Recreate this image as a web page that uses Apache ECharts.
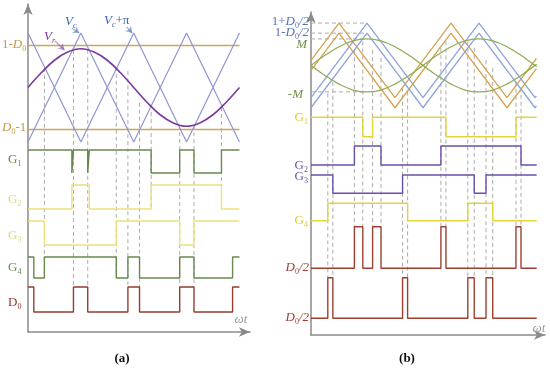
<!DOCTYPE html>
<html><head><meta charset="utf-8">
<script src="https://cdn.jsdelivr.net/npm/echarts@6/dist/echarts.min.js"></script>
<style>html,body{margin:0;padding:0;background:#fff}#c{width:550px;height:377px}</style>
</head><body><div id="c"></div>
<script>
// ================= DATA : panel (a) =================
const aCarX   = [0, 1, 2, 3, 4];
const aCarVc  = [-1, 1, -1, 1, -1];      // Vc
const aCarVcp = [1, -1, 1, -1, 1];       // Vc+pi
const aSineX  = [0,0.25,0.5,0.75,1,1.25,1.5,1.75,2,2.25,2.5,2.75,3,3.25,3.5,3.75,4];
const aSineY  = [0,0.27,0.5,0.65,0.71,0.65,0.5,0.27,0,-0.27,-0.5,-0.65,-0.71,-0.65,-0.5,-0.27,0];
const aLevels = [0.77, -0.77];           // 1-D0 , D0-1
const aEnd = 4;
const aG1 = {start:1, edges:[0.83,0.86,1.13,1.16,2.33,2.87,3.14,3.66]};
const aG2 = {start:0, edges:[0.83,1.16,2.33,3.66]};
const aG3 = {start:1, edges:[0.31,1.67,2.87,3.14]};
const aG4 = {start:1, edges:[0.11,0.31,1.67,1.89,2.11,2.87,3.14,3.87]};
const aD0 = {start:1, edges:[0.11,0.86,1.13,1.89,2.11,2.87,3.14,3.87]};
const aDashX   = [0.31,0.86,1.13,1.67,1.89,2.11,2.33,2.87,3.14,3.66];
const aDashTop = [0.36,0.69,0.69,0.38,0.30,-0.28,-0.45,-0.69,-0.69,-0.36];
const aDashRow = ['G4','D0','D0','G4','D0','D0','G2','D0','D0','G2'];

// ================= DATA : panel (b) =================
const bOrX = [0,1,3,5,7,8.05];
const bOrY = [0,1,-1,1,-1,0.05];
const bBlX = [0,2,4,6,8,8.05];
const bBlY = [-1,1,-1,1,-1,-0.95];
const bHalfD0 = 0.135;
const bM = 0.71;
const bSineX = [0,0.5,1,1.5,2,2.5,3,3.5,4,4.5,5,5.5,6,6.5,7,7.5,8,8.06];
const bSineY = [0,0.27,0.5,0.66,0.71,0.66,0.5,0.27,0,-0.27,-0.5,-0.66,-0.71,-0.66,-0.5,-0.27,0,0.03];
const bEnd = 8.06;
const bG1 = {start:1, edges:[1.85,2.20,4.82,7.32]};
const bG2 = {start:0, edges:[1.55,2.50,4.64,7.50]};
const bG3 = {start:1, edges:[0.78,3.27,5.83,6.25]};
const bG4 = {start:0, edges:[0.60,3.45,5.60,6.49]};
const bDa = {start:0, edges:[1.55,1.85,2.20,2.50,4.64,4.82,7.32,7.50]};
const bDb = {start:0, edges:[0.60,0.78,3.27,3.45,5.60,5.83,6.25,6.49]};
const bDashX   = [0.60,0.78,1.55,1.85,2.20,2.50,3.27,3.45,4.64,4.82,5.60,5.83,6.25,6.49,7.32,7.50];
const bDashTop = [-0.75,-0.44,0.41,0.64,0.41,0.2,-0.6,-0.7,0.47,0.64,0.64,0.47,0.14,-0.07,-0.44,-0.6];
const bDashRow = ['Db','Db','Da','Da','Da','Da','Db','Db','Da','Da','Db','Db','Db','Db','Da','Da'];
const bHLevels = [1 + bHalfD0, 1 - bHalfD0, bM, -bM];
const bHEnd = 2;

// ================= LAYOUT =================
const aMid = 244.5, aAmp = 54.5;
const aRows = {G1:[159,182], G2:[123,147], G3:[87,111], G4:[54,75], D0:[20,45]};
const bMid = 269.6, bAmp = 37.3;
const bRows = {G1:[198.3,217.7], G2:[170,189], G3:[141.7,160], G4:[114.3,131.7], Da:[66.7,108.3], Db:[16.7,57.3]};

const C = {
  aCar:'#8f96d2', aSine:'#7a3a9c', aLev:'#c9a85a', aGreen:'#66894c', aYel:'#ebe27c', aRed:'#953d2d',
  bOr:'#d6a24e', bBl:'#8ea3dc', bGr:'#8fae5c', bYel:'#e3d43e', bPur:'#6b4eaa', bRed:'#9e3f2e',
  dash:'#ababab', axis:'#8a8a8a'
};
const F = '"Liberation Serif","DejaVu Serif",serif';

function steps(sig, end, row){
  let lv = sig.start;
  const y = l => row[0] + l*(row[1]-row[0]);
  const pts = [[0, y(lv)]];
  sig.edges.forEach(e => { pts.push([e, y(lv)]); lv = 1-lv; pts.push([e, y(lv)]); });
  pts.push([end, y(lv)]);
  return pts;
}
function line(idx, data, color, w, extra){
  return Object.assign({type:'line', xAxisIndex:idx, yAxisIndex:idx, data, showSymbol:false, symbol:'none',
    silent:true, animation:false, lineStyle:{color, width:w}, z:3}, extra||{});
}
const series = [];
// ---- (a)
const aMap = v => aMid + v*aAmp;
aDashX.forEach((x,i)=>{
  series.push(line(0, [[x, aMap(aDashTop[i])],[x, aRows[aDashRow[i]][aDashRow[i]==='D0'?1:0]]], C.dash, 1, {lineStyle:{color:C.dash,width:1,type:[4,3]}, z:1}));
});
aLevels.forEach(l => series.push(line(0, [[0,aMap(l)],[aEnd,aMap(l)]], C.aLev, 1.4)));
series.push(line(0, aCarX.map((x,i)=>[x,aMap(aCarVc[i])]), C.aCar, 1.2));
series.push(line(0, aCarX.map((x,i)=>[x,aMap(aCarVcp[i])]), C.aCar, 1.2));
series.push(line(0, aSineX.map((x,i)=>[x,aMap(aSineY[i])]), C.aSine, 1.6, {smooth:0.4}));
series.push(line(0, steps(aG1,aEnd,aRows.G1), C.aGreen, 1.4));
series.push(line(0, steps(aG2,aEnd,aRows.G2), C.aYel, 1.4));
series.push(line(0, steps(aG3,aEnd,aRows.G3), C.aYel, 1.4));
series.push(line(0, steps(aG4,aEnd,aRows.G4), C.aGreen, 1.4));
series.push(line(0, steps(aD0,aEnd,aRows.D0), C.aRed, 1.4));
// ---- (b)
const bMap = v => bMid + v*bAmp;
bDashX.forEach((x,i)=>{
  series.push(line(1, [[x, bMap(bDashTop[i])],[x, bRows[bDashRow[i]][1]]], C.dash, 1, {lineStyle:{color:C.dash,width:1,type:[4,3]}, z:1}));
});
bHLevels.forEach(l => series.push(line(1, [[0,bMap(l)],[bHEnd,bMap(l)]], C.dash, 1, {lineStyle:{color:C.dash,width:1,type:[4,3]}, z:1})));
[bHalfD0, -bHalfD0].forEach(o=>{
  series.push(line(1, bOrX.map((x,i)=>[x,bMap(bOrY[i]+o)]), C.bOr, 1.3));
  series.push(line(1, bBlX.map((x,i)=>[x,bMap(bBlY[i]+o)]), C.bBl, 1.3));
});
series.push(line(1, bSineX.map((x,i)=>[x,bMap(bSineY[i])]), C.bGr, 1.3, {smooth:0.4}));
series.push(line(1, bSineX.map((x,i)=>[x,bMap(-bSineY[i])]), C.bGr, 1.3, {smooth:0.4}));
series.push(line(1, steps(bG1,bEnd,bRows.G1), C.bYel, 1.4));
series.push(line(1, steps(bG2,bEnd,bRows.G2), C.bPur, 1.4));
series.push(line(1, steps(bG3,bEnd,bRows.G3), C.bPur, 1.4));
series.push(line(1, steps(bG4,bEnd,bRows.G4), C.bYel, 1.4));
series.push(line(1, steps(bDa,bEnd,bRows.Da), C.bRed, 1.4));
series.push(line(1, steps(bDb,bEnd,bRows.Db), C.bRed, 1.4));
// annotation arrows (a)
const arrows = [
  {c:[[0.51,291],[0.69,282]], col:C.aSine},
  {c:[[0.83,304],[0.97,299]], col:'#3b66b5'},
  {c:[[1.87,305],[1.97,299]], col:'#3b66b5'}
];
series.push({type:'lines', coordinateSystem:'cartesian2d', xAxisIndex:0, yAxisIndex:0, silent:true, animation:false,
  symbol:['none','arrow'], symbolSize:6, z:5,
  data: arrows.map(a=>({coords:a.c, lineStyle:{color:a.col, width:1.3}}))});

// ================= LABELS =================
function lab(x, y, parts, color, align, size){
  size = size || 13;
  const rich = {
    n:{fontFamily:F, fontSize:size, fill:color, lineHeight:16, verticalAlign:'middle'},
    i:{fontFamily:F, fontSize:size, fontStyle:'italic', fill:color, lineHeight:16, verticalAlign:'middle'},
    s:{fontFamily:F, fontSize:Math.round(size*0.62), fill:color, lineHeight:10, verticalAlign:'bottom'},
    si:{fontFamily:F, fontSize:Math.round(size*0.62), fontStyle:'italic', fill:color, lineHeight:10, verticalAlign:'bottom'}
  };
  return {type:'text', x, y, silent:true, z:10, style:{text: parts.map(p=>'{'+p[1]+'|'+p[0]+'}').join(''), rich,
    align, verticalAlign:'middle', textAlign:align, textVerticalAlign:'middle'}};
}
const lev = '#c39a4c';
const graphics = [
  lab(2, 45, [['1-','n'],['D','i'],['0','s']], lev, 'left'),
  lab(2, 128, [['D','i'],['0','s'],['-1','n']], lev, 'left'),
  lab(44, 37, [['V','i'],['r','si']], C.aSine, 'left'),
  lab(65, 22, [['V','i'],['c','si']], '#3b66b5', 'left'),
  lab(104, 21, [['V','i'],['c','si'],['+π','n']], '#3b66b5', 'left'),
  lab(8, 160, [['G','n'],['1','s']], C.aGreen, 'left'),
  lab(8, 200, [['G','n'],['2','s']], '#e2d874', 'left'),
  lab(8, 236, [['G','n'],['3','s']], '#e2d874', 'left'),
  lab(8, 268, [['G','n'],['4','s']], C.aGreen, 'left'),
  lab(8, 303, [['D','n'],['0','s']], C.aRed, 'left'),
  lab(241, 320, [['ωt','i']], '#9a9a9a', 'center'),
  lab(309, 22, [['1+','n'],['D','i'],['0','s'],['/2','i']], '#5a74b8', 'right'),
  lab(309, 33, [['1-','n'],['D','i'],['0','s'],['/2','i']], '#5a74b8', 'right'),
  lab(307, 45, [['M','i']], '#6f9146', 'right'),
  lab(303, 95, [['-','n'],['M','i']], '#6f9146', 'right'),
  lab(308, 118, [['G','n'],['1','s']], '#dcc92e', 'right'),
  lab(308, 166, [['G','n'],['2','s']], C.bPur, 'right'),
  lab(308, 177, [['G','n'],['3','s']], C.bPur, 'right'),
  lab(308, 221, [['G','n'],['4','s']], '#dcc92e', 'right'),
  lab(309, 268, [['D','i'],['0','s'],['/2','i']], C.bRed, 'right'),
  lab(309, 318, [['D','i'],['0','s'],['/2','i']], C.bRed, 'right'),
  lab(539, 329, [['ωt','i']], '#9a9a9a', 'center'),
  {type:'text', x:122, y:359, silent:true, style:{text:'(a)', font:'bold 13px '+F, fill:'#111', align:'center', verticalAlign:'middle', textAlign:'center', textVerticalAlign:'middle'}},
  {type:'text', x:407, y:359, silent:true, style:{text:'(b)', font:'bold 13px '+F, fill:'#111', align:'center', verticalAlign:'middle', textAlign:'center', textVerticalAlign:'middle'}}
];

function xa(idx, max){ return {type:'value', gridIndex:idx, min:0, max, axisLabel:{show:false}, axisTick:{show:false}, splitLine:{show:false},
  axisLine:{show:true, onZero:false, symbol:['none','arrow'], symbolSize:[7,11], lineStyle:{color:C.axis, width:1.5}}}; }
function ya(idx, max){ return {type:'value', gridIndex:idx, min:0, max, axisLabel:{show:false}, axisTick:{show:false}, splitLine:{show:false},
  axisLine:{show:true, onZero:false, symbol:['none','arrow'], symbolSize:[7,11], lineStyle:{color:C.axis, width:1.5}}}; }

const chart = echarts.init(document.getElementById('c'), null, {renderer:'canvas'});
chart.setOption({
  animation:false,
  backgroundColor:'#fff',
  grid:[{left:28, top:4, width:222, height:328}, {left:311, top:12, width:234, height:323}],
  xAxis:[xa(0, 222/52.86), xa(1, 234/28)],
  yAxis:[ya(0, 328), ya(1, 323)],
  series,
  graphic: graphics
});
</script></body></html>
